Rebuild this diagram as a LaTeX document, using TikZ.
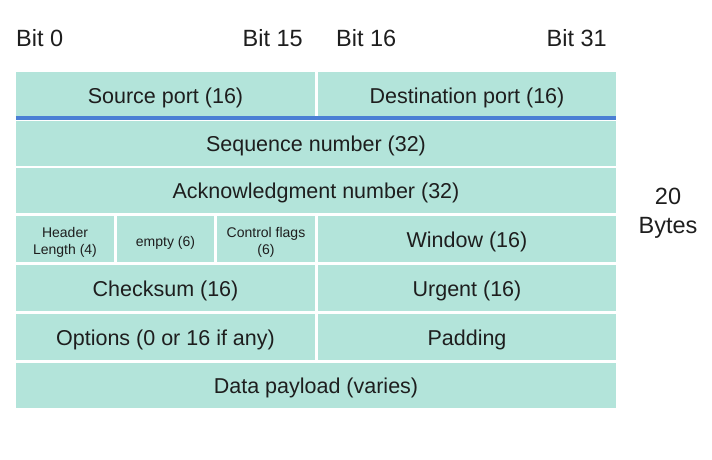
\documentclass[tikz,border=0pt]{standalone}
\usepackage{fontspec}
\setmainfont{Liberation Sans}
\definecolor{cellfill}{HTML}{B3E4DA}
\definecolor{blueline}{HTML}{4A7FD4}
\definecolor{txt}{HTML}{1E1E1E}
\newcommand{\mycell}[6]{%
  \node[cellbox, minimum width={(#4-#2)*1pt}, minimum height={(#5-#3)*1pt}]
    (#1) at ({(#2+#4)/2},{(#3+#5)/2}) {#6};}
\begin{document}
\begin{tikzpicture}[x=1pt,y=-1pt,
  cellbox/.style={fill=cellfill, inner sep=0pt, text=txt, font=\fontsize{21.5}{25}\selectfont,
    text height=16pt, text depth=0pt},
  smallbox/.style={fill=cellfill, inner sep=0pt, text=txt, font=\fontsize{14}{16.7}\selectfont, align=center},
  bitlabel/.style={text=txt, font=\fontsize{23.5}{27}\selectfont, inner sep=0pt}]
\useasboundingbox[fill=white] (0,0) rectangle (712,459);
% bit labels
\node[bitlabel, anchor=west] (b0) at (16,38) {Bit 0};
\node[bitlabel, anchor=east] (b15) at (303,38) {Bit 15};
\node[bitlabel, anchor=west] (b16) at (336,38) {Bit 16};
\node[bitlabel, anchor=east] (b31) at (607,38) {Bit 31};
% rows
\mycell{src}{16}{72}{315}{118}{Source port (16)}
\mycell{dst}{318}{72}{616}{118}{Destination port (16)}
\mycell{seq}{16}{121}{616}{166}{Sequence number (32)}
\mycell{ack}{16}{168}{616}{213}{Acknowledgment number (32)}
\node[smallbox, minimum width=98pt, minimum height=46pt, text height=30pt, text depth=0pt] (hlen) at (65,239) {Header\\Length (4)};
\node[smallbox, minimum width=97pt, minimum height=46pt, text height=15.4pt, text depth=0pt] (empty) at (165.5,239) {empty (6)};
\node[smallbox, minimum width=98pt, minimum height=46pt, text height=30pt, text depth=0pt] (flags) at (266,239) {Control flags\\(6)};
\mycell{win}{318}{216}{616}{262}{Window (16)}
\mycell{chk}{16}{265}{315}{311}{Checksum (16)}
\mycell{urg}{318}{265}{616}{311}{Urgent (16)}
\mycell{opt}{16}{314}{315}{360}{Options (0 or 16 if any)}
\mycell{pad}{318}{314}{616}{360}{Padding}
\mycell{data}{16}{363}{616}{408}{Data payload (varies)}
% blue line
\draw[blueline, line width=4.5pt] (src.south west) -- (dst.south east);
% bytes label
\node[bitlabel, align=center, font=\fontsize{23.5}{29}\selectfont] (bytes) at (668,213.5) {20\\Bytes};
\end{tikzpicture}
\end{document}
